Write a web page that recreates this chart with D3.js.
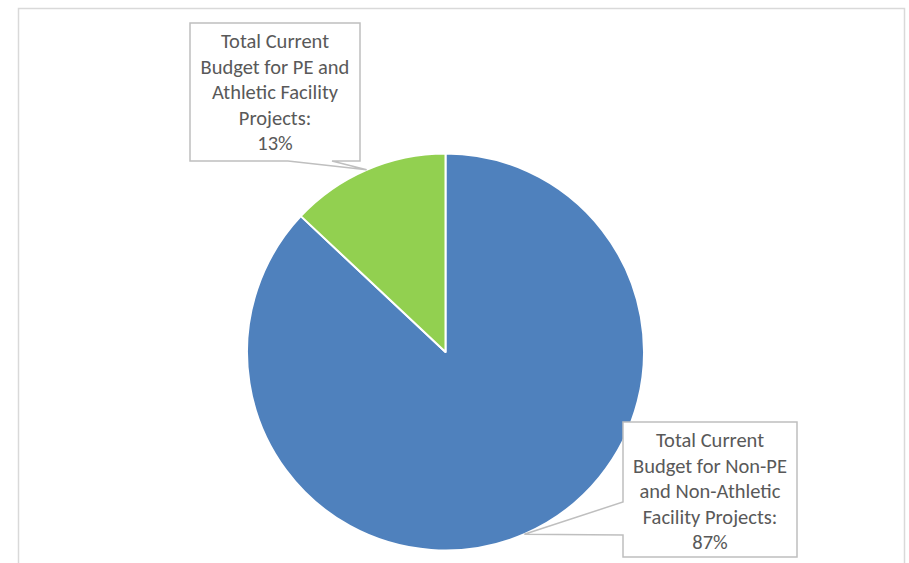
<!DOCTYPE html>
<html>
<head>
<meta charset="utf-8">
<script src="https://cdn.jsdelivr.net/npm/d3@7"></script>
<style>
  html, body { margin: 0; padding: 0; background: #fff; }
  svg { display: block; }
</style>
</head>
<body>
<svg id="chart" width="909" height="563"></svg>
<script>
// slice data, in drawing order (clockwise from 12 o'clock)
const categories = [
    "Total Current Budget for Non-PE and Non-Athletic Facility Projects",
    "Total Current Budget for PE and Athletic Facility Projects"
];
const values = [87, 13];
const colors = ["#4F81BD", "#92D050"];
const labelLines = [
    ["Total Current", "Budget for Non-PE", "and Non-Athletic", "Facility Projects:", "87%"],
    ["Total Current", "Budget for PE and", "Athletic Facility", "Projects:", "13%"]
];

const width = 909;
const height = 563;
const cx = 445.5;
const cy = 352;
const radius = 198.5;

// callout boxes (box rect + where the pointer leaves the box)
const callouts = [
    {x: 623, y: 422, w: 174, h: 135, side: "left", a: 80, b: 113},
    {x: 190, y: 23, w: 170, h: 138, side: "bottom", a: 98, b: 142}
];

const svg = d3.select("#chart");

// outer chart frame (bottom edge runs off the canvas)
svg.append("rect")
    .attr("x", 18.5)
    .attr("y", 8.5)
    .attr("width", 886)
    .attr("height", 570)
    .attr("fill", "none")
    .attr("stroke", "#D9D9D9")
    .attr("stroke-width", 1.5);

const pie = d3.pie().sort(null).value(d => d)(values);
const arc = d3.arc().innerRadius(0).outerRadius(radius);

const g = svg.append("g").attr("transform", `translate(${cx},${cy})`);

g.selectAll("path")
    .data(pie)
    .enter()
    .append("path")
    .attr("d", arc)
    .attr("fill", (d, i) => colors[i])
    .attr("stroke", "#fff")
    .attr("stroke-width", 2)
    .attr("stroke-linejoin", "round");

// callout labels, pointer tip sits on the slice's mid angle at the rim
const calloutPath = (c, tip) => {
    const p = d3.path();
    p.moveTo(c.x, c.y);
    p.lineTo(c.x + c.w, c.y);
    p.lineTo(c.x + c.w, c.y + c.h);
    if (c.side === "bottom") {
        p.lineTo(c.x + c.b, c.y + c.h);
        p.lineTo(tip[0], tip[1]);
        p.lineTo(c.x + c.a, c.y + c.h);
        p.lineTo(c.x, c.y + c.h);
    } else {
        p.lineTo(c.x, c.y + c.h);
        p.lineTo(c.x, c.y + c.b);
        p.lineTo(tip[0], tip[1]);
        p.lineTo(c.x, c.y + c.a);
    }
    p.closePath();
    return p.toString();
};

const labels = svg.append("g").attr("class", "labels");

pie.forEach((d, i) => {
    const c = callouts[i];
    const mid = (d.startAngle + d.endAngle) / 2;
    const tip = [cx + radius * Math.sin(mid), cy - radius * Math.cos(mid)];

    labels.append("path")
        .attr("d", calloutPath(c, tip))
        .attr("fill", "#fff")
        .attr("stroke", "#BFBFBF")
        .attr("stroke-width", 1.5);

    const lineH = 25.6;
    const firstBase = c.y + 25;
    labels.append("text")
        .attr("text-anchor", "middle")
        .attr("font-family", "Calibri, Carlito, Lato, sans-serif")
        .attr("font-size", 20.5)
        .attr("fill", "#595959")
        .selectAll("tspan")
        .data(labelLines[i])
        .enter()
        .append("tspan")
        .attr("x", c.x + c.w / 2)
        .attr("y", (t, j) => firstBase + j * lineH)
        .text(t => t);
});
</script>
</body>
</html>
